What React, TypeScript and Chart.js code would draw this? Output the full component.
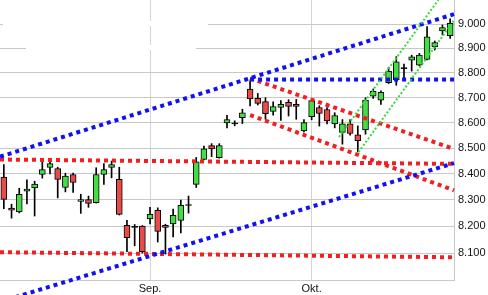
import { useEffect, useRef } from 'react';
import { Chart, registerables } from 'chart.js';

Chart.register(...registerables);

// Daily candles, Aug – Oct (index 0 = first session shown)
const opens = [
  8388, 8269, 8255, 8334, 8346, 8398, 8425, 8421, 8348, 8398,
  8295, 8302, 8290, 8398, 8425, 8379, 8204, 8199, 8201, 8228,
  8261, 8204, 8209, 8222, 8282, 8360, 8456, 8510, 8463, 8600,
  8599, 8620, 8735, 8697, 8684, 8645, 8661, 8681, 8673, 8568,
  8624, 8661, 8653, 8596, 8562, 8596, 8553, 8572, 8706, 8690,
  8760, 8772, 8820, 8852, 8831, 8855, 8906, 8971, 8952,
];
const highs = [
  8436, 8284, 8345, 8377, 8372, 8447, 8453, 8426, 8403, 8403,
  8322, 8315, 8424, 8440, 8450, 8426, 8223, 8207, 8203, 8272,
  8270, 8208, 8265, 8300, 8315, 8464, 8508, 8518, 8518, 8630,
  8608, 8654, 8768, 8717, 8700, 8683, 8688, 8692, 8693, 8613,
  8696, 8668, 8661, 8640, 8613, 8613, 8588, 8700, 8735, 8728,
  8823, 8866, 8836, 8872, 8879, 8989, 8930, 8996, 9021,
];
const lows = [
  8267, 8231, 8251, 8285, 8239, 8384, 8400, 8308, 8331, 8329,
  8249, 8272, 8288, 8360, 8385, 8243, 8105, 8127, 8100, 8209,
  8141, 8096, 8160, 8175, 8250, 8348, 8454, 8467, 8461, 8580,
  8588, 8597, 8667, 8671, 8614, 8630, 8610, 8627, 8614, 8564,
  8612, 8587, 8596, 8580, 8516, 8551, 8486, 8555, 8697, 8673,
  8757, 8750, 8775, 8807, 8828, 8853, 8893, 8955, 8941,
];
const closes = [
  8302, 8261, 8322, 8342, 8361, 8417, 8440, 8379, 8392, 8367,
  8302, 8287, 8398, 8417, 8436, 8245, 8157, 8196, 8105, 8245,
  8181, 8196, 8242, 8280, 8279, 8447, 8498, 8497, 8510, 8613,
  8596, 8640, 8695, 8677, 8636, 8665, 8673, 8665, 8665, 8601,
  8688, 8637, 8608, 8629, 8596, 8558, 8530, 8690, 8726, 8722,
  8806, 8845, 8817, 8865, 8872, 8947, 8923, 8985, 9003,
];

// Month starts on the time axis
const monthTickIndex = [19, 40];
const monthTickLabels = ['Sep.', 'Okt.'];

// Price axis ticks
const priceTicks = [8100, 8200, 8300, 8400, 8500, 8600, 8700, 8800, 8900, 9000];

// Trend lines as [candle index, price] end points
const blueChannelTop = [[-0.5, 8467], [58.5, 9041]];
const blueChannelBottom = [[-0.5, 7920], [58.5, 8442]];
const blueResistance = [[32, 8773], [58.5, 8773]];
const redUpperLevel = [[-0.5, 8456], [58.5, 8439]];
const redLowerLevel = [[-0.5, 8103], [58.5, 8084]];
const redChannelTop = [[32, 8778], [58.5, 8497]];
const redChannelBottom = [[32, 8631], [58.5, 8337]];
const greenChannelTop = [[43.55, 8544], [56.46, 9100]];
const greenChannelBottom = [[46.1, 8485], [58.5, 9015]];

const UP = '#44dd44';
const DOWN = '#e94a4a';
const FONT = { family: '"Liberation Sans", Arial, sans-serif', size: 11 };

const formatPrice = (v: number) =>
  Math.round(v).toString().replace(/\B(?=(\d{3})+(?!\d))/g, '.');

const trendLine = (pts: number[][], color: string, width: number, dash: number[]) => ({
  type: 'line' as const,
  data: pts.map(([x, y]) => ({ x, y })),
  borderColor: color,
  borderWidth: width,
  borderDash: dash,
  pointRadius: 0,
  fill: false,
  tension: 0,
  clip: false as const,
  order: 0,
});

// Clears the gridlines in the top-left corner where the legend panel sits
const blankCorner = {
  id: 'blankCorner',
  beforeDatasetsDraw(chart: any) {
    const { ctx, chartArea } = chart;
    ctx.save();
    ctx.fillStyle = '#ffffff';
    ctx.fillRect(chartArea.left + 3, chartArea.top + 21, 205, 5);
    ctx.fillRect(chartArea.left + 26, chartArea.top + 45, 170, 5);
    ctx.restore();
  },
};

export default function App() {
  const canvasRef = useRef<HTMLCanvasElement | null>(null);

  useEffect(() => {
    document.body.style.margin = '0';
    const canvas = canvasRef.current;
    if (!canvas) return;

    const wickData = lows.map((l, i) => ({ x: i, y: [l, highs[i]] }));
    const bodyData = opens.map((o, i) => ({ x: i, y: [o, closes[i]] }));
    const bodyColors = opens.map((o, i) => {
      const diff = closes[i] - o;
      if (Math.abs(diff) <= 3) return '#000000';
      return diff > 0 ? UP : DOWN;
    });

    const chart = new Chart(canvas, {
      type: 'bar',
      data: {
        datasets: [
          trendLine(greenChannelTop, '#33dd33', 2, [2, 2]),
          trendLine(greenChannelBottom, '#33dd33', 2, [2, 2]),
          trendLine(blueChannelTop, '#1010f0', 4, [4, 4]),
          trendLine(blueChannelBottom, '#1010f0', 4, [4, 4]),
          trendLine(blueResistance, '#1010f0', 4, [4, 4]),
          trendLine(redUpperLevel, '#f02020', 4, [4, 4]),
          trendLine(redLowerLevel, '#f02020', 4, [4, 4]),
          trendLine(redChannelTop, '#f02020', 4, [4, 4]),
          trendLine(redChannelBottom, '#f02020', 4, [4, 4]),
          {
            type: 'bar',
            data: bodyData as any,
            backgroundColor: bodyColors,
            borderColor: '#000000',
            borderWidth: 1,
            borderSkipped: false,
            barThickness: 6,
            minBarLength: 1,
            grouped: false,
            order: 1,
          } as any,
          {
            type: 'bar',
            data: wickData as any,
            backgroundColor: '#000000',
            borderWidth: 0,
            barThickness: 1,
            grouped: false,
            order: 2,
          } as any,
        ],
      },
      options: {
        animation: false,
        responsive: false,
        maintainAspectRatio: false,
        layout: { padding: 0 },
        plugins: { legend: { display: false }, tooltip: { enabled: false } },
        scales: {
          x: {
            type: 'linear',
            min: -0.5,
            max: 58.5,
            bounds: 'data',
            offset: false,
            afterBuildTicks: (s: any) => {
              s.ticks = monthTickIndex.map((v) => ({ value: v }));
            },
            afterFit: (s: any) => {
              s.height = 15;
              s.paddingLeft = 0;
              s.paddingRight = 0;
            },
            ticks: {
              autoSkip: false,
              maxRotation: 0,
              padding: 2,
              font: FONT,
              color: '#111',
              callback: (v: any) => {
                const k = monthTickIndex.indexOf(Number(v));
                return k >= 0 ? monthTickLabels[k] : '';
              },
            },
            grid: { color: '#d4d4d4', drawTicks: false, offset: false },
            border: { color: '#c8c8c8' },
          },
          y: {
            type: 'logarithmic',
            position: 'right',
            min: 8000,
            max: 9100,
            bounds: 'data',
            afterBuildTicks: (s: any) => {
              s.ticks = priceTicks.map((v) => ({ value: v }));
            },
            afterFit: (s: any) => {
              s.width = 34;
              s.paddingTop = 0;
              s.paddingBottom = 0;
            },
            ticks: {
              padding: 4,
              font: FONT,
              color: '#111',
              callback: (v: any) => formatPrice(Number(v)),
            },
            grid: { color: '#c8c8c8', drawTicks: false },
            border: { color: '#c8c8c8' },
          },
        },
      } as any,
      plugins: [blankCorner],
    });

    return () => chart.destroy();
  }, []);

  return (
    <div style={{ position: 'absolute', left: 0, top: 0, width: 488, height: 295, background: '#fff' }}>
      <canvas ref={canvasRef} width={488} height={295} style={{ display: 'block' }} />
    </div>
  );
}
